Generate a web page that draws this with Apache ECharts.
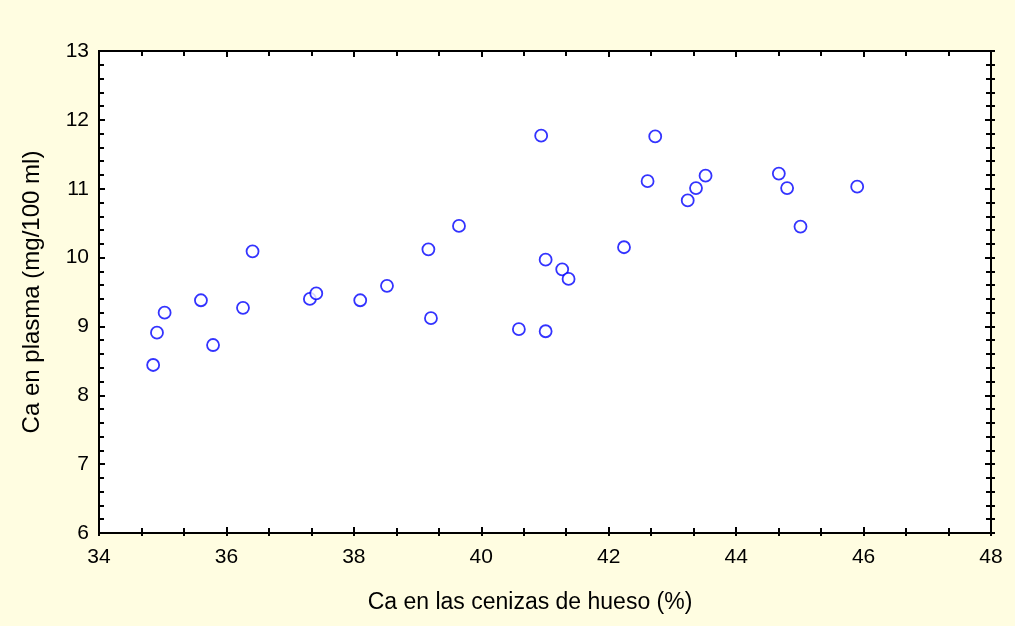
<!DOCTYPE html>
<html>
<head>
<meta charset="utf-8">
<script src="https://cdn.jsdelivr.net/npm/echarts@6/dist/echarts.min.js"></script>
<style>
  html, body { margin: 0; padding: 0; background: #fffde1; }
  #chart { width: 1015px; height: 626px; }
</style>
</head>
<body>
<div id="chart"></div>
<script>
// Ca en las cenizas de hueso (%)
var cenizas = [34.85, 34.91, 35.03, 35.60, 35.79, 36.26, 36.41, 37.31, 37.41, 38.10,
               38.52, 39.17, 39.21, 39.65, 40.59, 40.94, 41.01, 41.01, 41.27, 41.37,
               42.24, 42.61, 42.73, 43.24, 43.37, 43.52, 44.67, 44.80, 45.01, 45.90];
// Ca en plasma (mg/100 ml)
var plasma = [8.44, 8.91, 9.20, 9.38, 8.73, 9.27, 10.09, 9.40, 9.48, 9.38,
              9.59, 10.12, 9.12, 10.46, 8.96, 11.77, 9.97, 8.93, 9.83, 9.69,
              10.15, 11.11, 11.76, 10.83, 11.01, 11.19, 11.22, 11.01, 10.45, 11.03];

var xMin = 34, xMax = 48, xStep = 2;
var yMin = 6, yMax = 13, yStep = 1;

var puntos = cenizas.map(function (x, i) { return [x, plasma[i]]; });

var font = 'Liberation Sans, Arial, sans-serif';
var lineStyle = { color: '#000', width: 2 };

function ejeX(pos, conEtiquetas, dentro) {
  return {
    type: 'value', position: pos, min: xMin, max: xMax, interval: xStep,
    axisLine: { show: true, onZero: false, lineStyle: lineStyle },
    axisTick: { show: true, inside: dentro, length: dentro ? 6 : 3, lineStyle: lineStyle },
    minorTick: { show: true, splitNumber: 3, length: dentro ? 5 : 3, lineStyle: lineStyle },
    axisLabel: { show: conEtiquetas, color: '#000', fontSize: 21, fontFamily: font, margin: 14 },
    splitLine: { show: false },
    name: conEtiquetas ? 'Ca en las cenizas de hueso (%)' : '',
    nameLocation: 'middle', nameGap: 58,
    nameTextStyle: { color: '#000', fontSize: 23, fontFamily: font, padding: [0, 30, 0, 0] }
  };
}
function ejeY(pos, conEtiquetas, dentro) {
  return {
    type: 'value', position: pos, min: yMin, max: yMax, interval: yStep,
    axisLine: { show: true, onZero: false, lineStyle: lineStyle },
    axisTick: { show: true, inside: dentro, length: dentro ? 6 : 4, lineStyle: lineStyle },
    minorTick: { show: true, splitNumber: 5, length: dentro ? 5 : 4, lineStyle: lineStyle },
    axisLabel: { show: conEtiquetas, color: '#000', fontSize: 21, fontFamily: font, margin: 10 },
    splitLine: { show: false },
    name: conEtiquetas ? 'Ca en plasma (mg/100 ml)' : '',
    nameLocation: 'middle', nameGap: 55,
    nameTextStyle: { color: '#000', fontSize: 24, fontFamily: font }
  };
}

var chart = echarts.init(document.getElementById('chart'));
chart.setOption({
  backgroundColor: '#fffde1',
  animation: false,
  grid: {
    left: 99, top: 51, right: 24, bottom: 93,
    show: true, backgroundColor: '#fff', borderColor: '#000', borderWidth: 2
  },
  xAxis: [ejeX('bottom', true, true), ejeX('top', false, true), ejeX('bottom', false, false)],
  yAxis: [ejeY('left', true, true), ejeY('right', false, true), ejeY('right', false, false)],
  series: [{
    type: 'scatter',
    data: puntos,
    symbol: 'circle',
    symbolSize: 12,
    itemStyle: { color: '#fff', borderColor: '#0000ff', borderWidth: 1.8 }
  }]
});
</script>
</body>
</html>
